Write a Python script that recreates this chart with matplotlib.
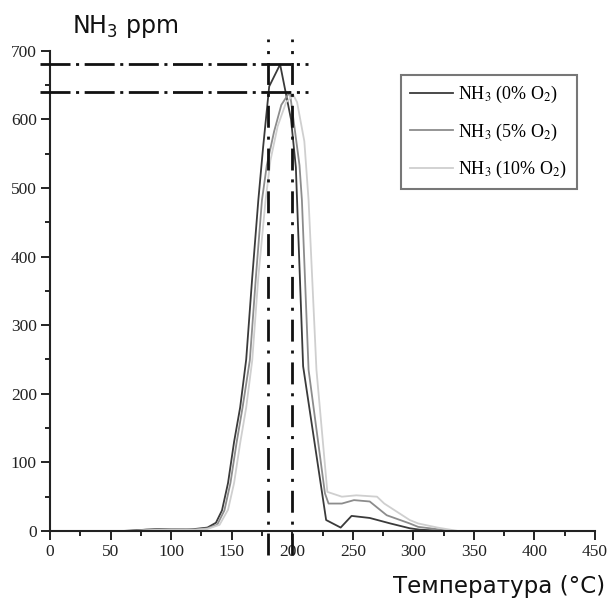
import numpy as np
import matplotlib
matplotlib.use('Agg')
import matplotlib.pyplot as plt
from matplotlib.font_manager import FontProperties
from matplotlib.ticker import MultipleLocator

# NH3 (0% O2)
temp_0 = [60, 70, 80, 90, 100, 110, 120, 130, 137, 142, 147, 152, 157, 162, 167, 172, 176, 181, 190,
          199, 203, 209, 228, 240, 249, 264, 281, 297, 305, 315, 325]
nh3_0 = [0, 1, 2, 3, 3, 2, 3, 5, 12, 30, 70, 130, 180, 250, 370, 482, 560, 648, 680,
         600, 530, 240, 16, 5, 22, 19, 11, 4, 2, 1, 0]

# NH3 (5% O2)
temp_5 = [65, 80, 90, 100, 110, 120, 130, 138, 144, 149, 154, 159, 165, 170, 175, 179, 185, 191, 198,
          201, 206, 208, 213.5, 227, 230, 241, 251, 264, 278, 297, 304, 318, 330]
nh3_5 = [0, 2, 2, 3, 3, 2, 4, 9, 30, 70, 128, 180, 249, 370, 482, 533, 582, 621, 640,
         600, 533, 482, 235, 55, 40, 40, 45, 43, 23, 11, 6, 3, 0]

# NH3 (10% O2)
temp_10 = [70, 80, 90, 100, 110, 120, 130, 140, 147, 152, 157, 162, 167, 172, 178, 182, 188, 195, 201,
           204, 210, 213.5, 220, 229, 241, 253, 270, 276, 297, 304, 320, 337]
nh3_10 = [0, 1, 2, 2, 2, 2, 3, 9, 31, 70, 128, 180, 249, 370, 482, 540, 590, 625, 635,
          625, 568, 482, 235, 57, 50, 52, 50, 40, 16, 11, 5, 0]

labels = [r'NH$_3$ (0% O$_2$)', r'NH$_3$ (5% O$_2$)', r'NH$_3$ (10% O$_2$)']

ref_temps = [180, 200]
ref_levels = [680, 640]

fig = plt.figure(figsize=(6.08, 5.99), dpi=100)
ax = fig.add_axes([50/608, 68/599, 545/608, 480.3/599])

ax.plot(temp_0, nh3_0, color='#3a3a3a', lw=1.3, label=labels[0])
ax.plot(temp_5, nh3_5, color='#8c8c8c', lw=1.3, label=labels[1])
ax.plot(temp_10, nh3_10, color='#cfcfcf', lw=1.3, label=labels[2])

# dash-dot guide lines
ax.vlines(ref_temps, -35, 717, colors='#111111', lw=2,
          linestyles=[(0, (7.9, 3.2, 1.1, 3.2))], clip_on=False, zorder=3)
ax.hlines(ref_levels, -8, 213, colors='#111111', lw=2,
          linestyles=[(0, (10.8, 2.0, 1.1, 2.0))], clip_on=False, zorder=3)

ax.set_xlim(0, 450)
ax.set_ylim(0, 700)
ax.xaxis.set_major_locator(MultipleLocator(50))
ax.xaxis.set_minor_locator(MultipleLocator(25))
ax.yaxis.set_major_locator(MultipleLocator(100))
ax.yaxis.set_minor_locator(MultipleLocator(50))

for s in ['top', 'right']:
    ax.spines[s].set_visible(False)
for s in ['left', 'bottom']:
    ax.spines[s].set_linewidth(1.5)
    ax.spines[s].set_color('#222222')

ax.tick_params(which='major', direction='out', length=6.5, width=1.4, color='#222222',
               labelsize=12.5, pad=3)
ax.tick_params(which='minor', direction='out', length=3.5, width=1.4, color='#222222')
for lab in ax.get_xticklabels() + ax.get_yticklabels():
    lab.set_fontfamily('Liberation Serif')
    lab.set_color('#222222')

leg_prop = FontProperties(family='Liberation Serif', size=13, math_fontfamily='stix')
leg = ax.legend(loc='upper left', bbox_to_anchor=(0.6435, 0.949), borderaxespad=0,
                prop=leg_prop, fancybox=False, frameon=True, handlelength=2.4,
                handletextpad=0.3, labelspacing=0.9, borderpad=0.5)
leg.get_frame().set_edgecolor('#555555')
leg.get_frame().set_linewidth(1.5)

fig.text(71.7/608, 1 - 33.3/599, r'NH$_3$ ppm', fontsize=17, family='DejaVu Sans',
         math_fontfamily='dejavusans', va='baseline', ha='left', color='#111111')
fig.text(605/608, 1 - 593/599, 'Температура (°C)', fontsize=16.6, family='DejaVu Sans',
         va='baseline', ha='right', color='#111111')

fig.savefig('out.png', dpi=100)
